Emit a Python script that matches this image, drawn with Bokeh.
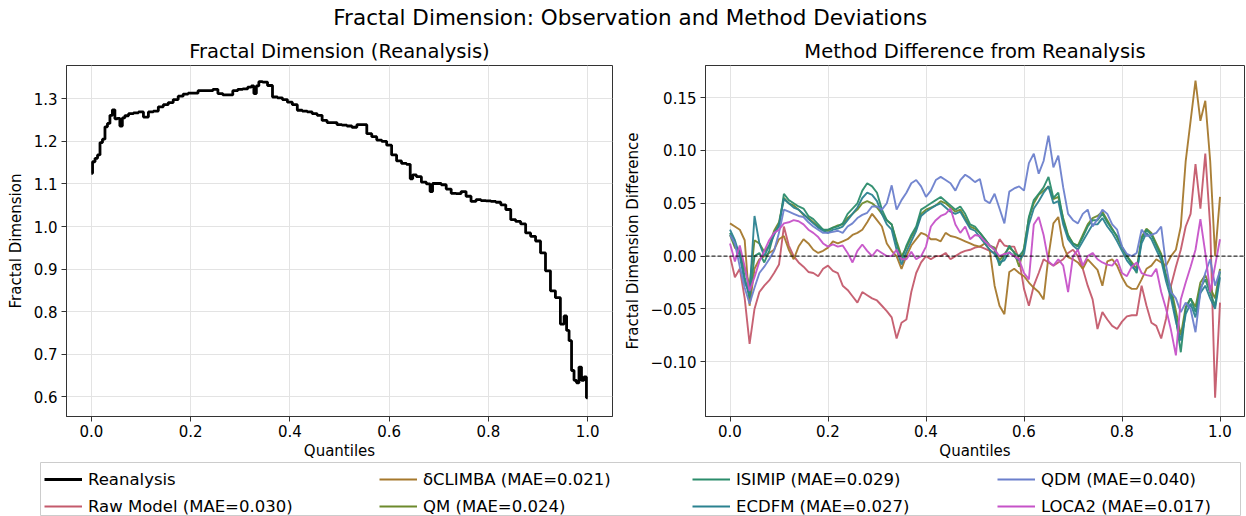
import numpy as np
from bokeh.plotting import figure
from bokeh.models import Range1d, FixedTicker, Span, Legend, LegendItem, CustomJSTickFormatter
from bokeh.layouts import column, row
from bokeh.embed import file_html
from bokeh.resources import INLINE
from bokeh.core.properties import value

FONT = "DejaVu Sans"

SUPTITLE = "Fractal Dimension: Observation and Method Deviations"
LEFT_TITLE = "Fractal Dimension (Reanalysis)"
RIGHT_TITLE = "Method Difference from Reanalysis"
X_LABEL = "Quantiles"
LEFT_YLABEL = "Fractal Dimension"
RIGHT_YLABEL = "Fractal Dimension Difference"

# ---- Reanalysis fractal dimension (left panel) ----
obs_q = [0.000, 0.005, 0.010, 0.015, 0.020, 0.025, 0.030, 0.035, 0.040, 0.045,
         0.050, 0.055, 0.060, 0.065, 0.070, 0.080, 0.090, 0.100, 0.110, 0.120,
         0.130, 0.140, 0.150, 0.160, 0.170, 0.180, 0.190, 0.200, 0.210, 0.220,
         0.230, 0.240, 0.250, 0.260, 0.270, 0.280, 0.290, 0.300, 0.310, 0.320,
         0.325, 0.330, 0.335, 0.340, 0.350, 0.360, 0.370, 0.380, 0.390, 0.400,
         0.410, 0.420, 0.430, 0.440, 0.450, 0.460, 0.470, 0.480, 0.490, 0.500,
         0.510, 0.520, 0.530, 0.540, 0.550, 0.560, 0.570, 0.580, 0.590, 0.600,
         0.610, 0.620, 0.630, 0.640, 0.645, 0.650, 0.660, 0.670, 0.680, 0.685,
         0.690, 0.700, 0.710, 0.720, 0.730, 0.740, 0.750, 0.760, 0.770, 0.780,
         0.790, 0.800, 0.810, 0.820, 0.830, 0.840, 0.850, 0.860, 0.870, 0.880,
         0.890, 0.900, 0.910, 0.920, 0.930, 0.940, 0.950, 0.955, 0.960, 0.965,
         0.970, 0.975, 0.980, 0.985, 0.990, 0.995, 1.000]
obs_fd = [1.125, 1.152, 1.160, 1.168, 1.197, 1.205, 1.234, 1.242, 1.261, 1.274,
          1.253, 1.254, 1.236, 1.255, 1.260, 1.265, 1.267, 1.269, 1.257, 1.269,
          1.271, 1.281, 1.286, 1.291, 1.298, 1.306, 1.311, 1.313, 1.313, 1.319,
          1.319, 1.319, 1.322, 1.312, 1.309, 1.309, 1.319, 1.322, 1.323, 1.327,
          1.330, 1.312, 1.330, 1.340, 1.339, 1.331, 1.304, 1.302, 1.298, 1.292,
          1.286, 1.273, 1.271, 1.269, 1.265, 1.261, 1.249, 1.244, 1.244, 1.239,
          1.238, 1.236, 1.233, 1.239, 1.239, 1.218, 1.211, 1.203, 1.200, 1.191,
          1.168, 1.154, 1.148, 1.146, 1.112, 1.121, 1.117, 1.104, 1.100, 1.082,
          1.101, 1.101, 1.098, 1.088, 1.078, 1.077, 1.082, 1.071, 1.059, 1.063,
          1.061, 1.060, 1.059, 1.057, 1.051, 1.040, 1.016, 1.012, 1.006, 0.985,
          0.977, 0.966, 0.938, 0.896, 0.849, 0.833, 0.771, 0.790, 0.756, 0.732,
          0.662, 0.639, 0.633, 0.670, 0.639, 0.647, 0.598]

# ---- Method differences from reanalysis (right panel), quantiles 0.00..1.00 step 0.01 ----
quantiles = np.round(np.linspace(0.0, 1.0, 101), 2)

raw_model = [0.000, -0.020, -0.012, -0.040, -0.083, -0.050, -0.034, -0.028, -0.023, -0.016,
             -0.008, 0.028, 0.010, 0.000, -0.006, -0.010, -0.015, -0.016, -0.019, -0.012,
             -0.009, -0.014, -0.016, -0.028, -0.032, -0.038, -0.044, -0.034, -0.037, -0.040,
             -0.042, -0.047, -0.052, -0.058, -0.078, -0.063, -0.060, -0.034, -0.016, -0.006,
             0.000, -0.003, 0.000, 0.000, 0.003, -0.003, 0.000, 0.003, 0.005, 0.006,
             0.008, 0.009, 0.007, 0.005, 0.003, 0.016, 0.010, 0.009, 0.009, -0.003,
             -0.031, -0.047, -0.028, -0.016, -0.003, -0.006, -0.009, -0.006, -0.003, 0.003,
             0.006, 0.000, -0.012, -0.028, -0.041, -0.069, -0.053, -0.060, -0.066, -0.069,
             -0.062, -0.057, -0.056, -0.056, -0.028, -0.047, -0.063, -0.066, -0.078, -0.059,
             -0.028, -0.010, 0.006, 0.028, 0.040, 0.087, 0.045, 0.097, 0.028, -0.134, -0.044]

dclimba = [0.031, 0.028, 0.025, 0.015, -0.047, -0.012, -0.003, 0.000, 0.003, 0.006,
           0.016, 0.019, 0.006, -0.003, 0.009, 0.016, 0.012, 0.006, 0.003, 0.005,
           0.008, 0.014, 0.012, 0.014, 0.016, 0.020, 0.022, 0.025, 0.032, 0.040,
           0.034, 0.028, 0.012, 0.005, 0.000, -0.012, 0.000, 0.010, 0.016, 0.022,
           0.020, 0.016, 0.016, 0.014, 0.022, 0.019, 0.018, 0.016, 0.014, 0.012,
           0.010, 0.009, 0.012, 0.006, -0.028, -0.047, -0.055, -0.015, -0.012, -0.016,
           -0.019, -0.025, -0.030, -0.034, -0.041, 0.000, 0.031, 0.037, 0.010, -0.001,
           -0.003, -0.006, -0.012, -0.003, -0.008, -0.013, -0.028, -0.005, -0.003, -0.009,
           -0.020, -0.028, -0.031, -0.031, -0.022, -0.012, -0.009, -0.003, -0.006, -0.009,
           0.000, 0.006, 0.028, 0.090, 0.128, 0.166, 0.128, 0.147, 0.090, 0.000, 0.056]

qm = [0.020, 0.008, 0.004, -0.012, -0.028, 0.015, 0.012, 0.004, 0.010, 0.024,
      0.032, 0.055, 0.050, 0.048, 0.044, 0.039, 0.036, 0.032, 0.028, 0.025,
      0.024, 0.027, 0.029, 0.030, 0.036, 0.040, 0.044, 0.050, 0.052, 0.050,
      0.046, 0.040, 0.034, 0.030, 0.014, 0.000, 0.008, 0.018, 0.026, 0.040,
      0.044, 0.046, 0.048, 0.052, 0.050, 0.046, 0.042, 0.044, 0.036, 0.028,
      0.026, 0.022, 0.016, 0.010, 0.008, -0.004, 0.002, 0.008, 0.004, -0.010,
      0.008, 0.036, 0.050, 0.058, 0.062, 0.066, 0.054, 0.056, 0.036, 0.020,
      0.012, 0.010, 0.020, 0.030, 0.036, 0.038, 0.042, 0.034, 0.026, 0.018,
      0.008, 0.000, -0.006, -0.012, 0.018, 0.026, 0.022, 0.012, 0.002, -0.018,
      -0.030, -0.052, -0.075, -0.048, -0.040, -0.048, -0.025, -0.018, -0.030, -0.040, -0.012]

isimip = [0.022, 0.010, 0.005, -0.020, -0.040, 0.000, 0.003, -0.006, 0.005, 0.022,
          0.028, 0.059, 0.053, 0.050, 0.047, 0.045, 0.038, 0.035, 0.030, 0.025,
          0.025, 0.027, 0.028, 0.031, 0.040, 0.045, 0.050, 0.062, 0.069, 0.066,
          0.060, 0.044, 0.034, 0.030, 0.012, -0.004, 0.010, 0.020, 0.028, 0.044,
          0.047, 0.050, 0.053, 0.056, 0.052, 0.048, 0.044, 0.047, 0.040, 0.030,
          0.028, 0.022, 0.016, 0.010, 0.006, -0.009, 0.000, 0.010, 0.003, 0.000,
          0.006, 0.037, 0.053, 0.059, 0.065, 0.075, 0.055, 0.060, 0.034, 0.019,
          0.012, 0.009, 0.018, 0.028, 0.034, 0.034, 0.040, 0.032, 0.025, 0.019,
          0.009, 0.000, -0.008, -0.016, 0.016, 0.025, 0.020, 0.010, 0.000, -0.020,
          -0.034, -0.059, -0.091, -0.050, -0.040, -0.053, -0.030, -0.022, -0.035, -0.047, -0.015]

ecdfm = [0.025, 0.015, 0.000, -0.025, -0.035, 0.038, 0.012, 0.000, 0.010, 0.020,
         0.030, 0.054, 0.050, 0.046, 0.044, 0.040, 0.035, 0.031, 0.027, 0.024,
         0.022, 0.025, 0.026, 0.028, 0.034, 0.040, 0.046, 0.055, 0.060, 0.058,
         0.052, 0.040, 0.030, 0.025, 0.006, -0.008, 0.004, 0.014, 0.024, 0.038,
         0.042, 0.045, 0.048, 0.050, 0.046, 0.042, 0.040, 0.042, 0.034, 0.026,
         0.024, 0.018, 0.012, 0.006, 0.002, -0.006, -0.004, 0.004, 0.000, -0.004,
         0.002, 0.030, 0.045, 0.052, 0.060, 0.066, 0.050, 0.052, 0.030, 0.016,
         0.010, 0.006, 0.014, 0.022, 0.030, 0.030, 0.036, 0.028, 0.022, 0.014,
         0.005, -0.004, -0.010, -0.014, 0.012, 0.022, 0.016, 0.006, -0.004, -0.024,
         -0.040, -0.062, -0.080, -0.055, -0.045, -0.058, -0.035, -0.028, -0.040, -0.050, -0.020]

qdm = [0.020, 0.012, -0.010, -0.030, -0.045, -0.030, -0.016, -0.010, -0.003, 0.005,
       0.022, 0.044, 0.042, 0.040, 0.038, 0.037, 0.032, 0.028, 0.025, 0.022,
       0.022, 0.023, 0.024, 0.022, 0.028, 0.031, 0.036, 0.039, 0.041, 0.047,
       0.047, 0.044, 0.050, 0.067, 0.044, 0.053, 0.060, 0.069, 0.072, 0.066,
       0.056, 0.062, 0.072, 0.075, 0.072, 0.069, 0.062, 0.072, 0.077, 0.074,
       0.070, 0.073, 0.053, 0.050, 0.059, 0.045, 0.031, 0.061, 0.064, 0.066,
       0.062, 0.088, 0.097, 0.078, 0.090, 0.114, 0.084, 0.095, 0.065, 0.040,
       0.034, 0.031, 0.040, 0.044, 0.028, 0.035, 0.044, 0.040, 0.030, 0.025,
       0.009, 0.002, 0.000, 0.003, 0.025, 0.019, 0.020, 0.022, 0.028, -0.009,
       -0.034, -0.040, -0.053, -0.044, -0.050, -0.072, -0.034, -0.016, -0.003, -0.028, -0.014]

loca2 = [0.012, -0.005, 0.010, -0.010, -0.033, -0.020, -0.005, 0.005, 0.015, 0.022,
         0.025, 0.031, 0.032, 0.034, 0.033, 0.030, 0.025, 0.022, 0.018, 0.012,
         0.009, 0.011, 0.009, 0.010, 0.003, -0.006, 0.005, 0.011, 0.005, 0.000,
         0.006, 0.003, 0.000, 0.000, 0.006, -0.003, -0.003, 0.004, -0.003, 0.000,
         0.009, 0.028, 0.034, 0.038, 0.040, 0.045, 0.030, 0.022, 0.028, 0.016,
         0.020, 0.019, 0.014, 0.010, 0.006, 0.000, 0.002, 0.003, 0.000, -0.003,
         -0.016, -0.022, 0.030, 0.037, 0.020, -0.005, -0.009, -0.003, -0.009, -0.034,
         0.000, 0.006, -0.009, 0.000, 0.003, -0.003, -0.006, -0.008, -0.009, -0.003,
         -0.016, -0.019, -0.010, -0.006, -0.016, -0.018, -0.019, -0.012, -0.034, -0.050,
         -0.070, -0.094, -0.041, -0.025, -0.010, 0.006, 0.035, 0.003, -0.034, -0.009, 0.016]

method_names = ["Raw Model", "\u03b4CLIMBA", "QM", "ISIMIP", "ECDFM", "QDM", "LOCA2"]
method_mae = [0.030, 0.021, 0.024, 0.029, 0.027, 0.040, 0.017]
method_series = [raw_model, dclimba, qm, isimip, ecdfm, qdm, loca2]
method_colors = ["#c45a6c", "#a5782c", "#6d8a2c", "#2b8c6b", "#2b8290", "#6b7fcc", "#c652c8"]

x_ticks = [0.0, 0.2, 0.4, 0.6, 0.8, 1.0]
left_y_ticks = [0.6, 0.7, 0.8, 0.9, 1.0, 1.1, 1.2, 1.3]
right_y_ticks = [-0.10, -0.05, 0.00, 0.05, 0.10, 0.15]

for s in method_series:
    assert len(s) == 101


def fmt(decimals):
    return CustomJSTickFormatter(code=(
        "var v = Math.abs(tick) < 1e-9 ? 0 : tick;"
        "return v.toFixed(%d).replace('-', '\u2212');" % decimals))


def style(p, title, ylabel, yticks, ydec):
    p.title.text = title
    p.title.text_font = FONT
    p.title.text_font_size = "19.5px"
    p.title.text_font_style = "normal"
    p.title.align = "center"
    p.title.text_color = "black"
    p.title.standoff = 6
    p.outline_line_color = "#333333"
    p.outline_line_width = 1
    p.grid.grid_line_color = "#e3e3e3"
    p.grid.grid_line_width = 1
    p.xaxis.ticker = FixedTicker(ticks=x_ticks)
    p.yaxis.ticker = FixedTicker(ticks=yticks)
    p.xaxis.formatter = fmt(1)
    p.yaxis.formatter = fmt(ydec)
    p.xaxis.axis_label = X_LABEL
    p.yaxis.axis_label = ylabel
    for ax in (p.xaxis[0], p.yaxis[0]):
        ax.axis_line_color = "#333333"
        ax.major_tick_line_color = "#333333"
        ax.major_tick_out = 5
        ax.major_tick_in = 0
        ax.minor_tick_out = 0
        ax.minor_tick_in = 0
        ax.major_label_text_font = FONT
        ax.major_label_text_font_size = "15px"
        ax.major_label_text_color = "black"
        ax.axis_label_text_font = FONT
        ax.axis_label_text_font_size = "15px"
        ax.axis_label_text_font_style = "normal"
        ax.axis_label_text_color = "black"
    p.xaxis.major_label_standoff = 3
    p.xaxis.axis_label_standoff = 2
    p.yaxis.major_label_standoff = 4
    p.yaxis.axis_label_standoff = 6


# header with suptitle
header = figure(width=1246, height=30, x_range=Range1d(0, 1), y_range=Range1d(0, 1),
                x_axis_type=None, y_axis_type=None, min_border=0,
                toolbar_location=None, output_backend="svg", outline_line_color=None)
header.grid.visible = False
header.text(x=[0.4915], y=[0.45], text=[SUPTITLE], text_align="center", text_baseline="middle",
            text_font=value(FONT), text_font_size="21.5px", text_color="black")

# left panel
p1 = figure(width=620, height=432, x_range=Range1d(-0.05, 1.05), y_range=Range1d(0.554, 1.378),
            min_border_left=66, min_border_right=8, min_border_top=35, min_border_bottom=44,
            toolbar_location=None, output_backend="svg")
style(p1, LEFT_TITLE, LEFT_YLABEL, left_y_ticks, 1)
p1.step(x=obs_q, y=obs_fd, mode="center", line_color="black", line_width=2.8)

# right panel
p2 = figure(width=626, height=432, x_range=Range1d(-0.05, 1.05), y_range=Range1d(-0.1518, 0.1804),
            min_border_left=78, min_border_right=2, min_border_top=35, min_border_bottom=44,
            toolbar_location=None, output_backend="svg")
style(p2, RIGHT_TITLE, RIGHT_YLABEL, right_y_ticks, 2)
for vals, col in zip(method_series, method_colors):
    p2.line(x=quantiles, y=vals, line_color=col, line_width=1.9, line_alpha=0.95)
p2.add_layout(Span(location=0, dimension="width", line_color="black", line_dash="4 2", line_width=1))

# legend strip
lf = figure(width=1246, height=54, x_range=Range1d(0, 1), y_range=Range1d(0, 1),
            x_axis_type=None, y_axis_type=None,
            min_border_left=40, min_border_right=6, min_border_top=0, min_border_bottom=0,
            toolbar_location=None, output_backend="svg", outline_line_color="#cccccc")
lf.grid.visible = False

labels = ["Reanalysis"] + ["%s (MAE=%.3f)" % (n, m) for n, m in zip(method_names, method_mae)]
colors = ["black"] + method_colors
widths = [2.8] + [2.0] * 7
renderers = [lf.line(x=[5, 6], y=[5, 6], line_color=c, line_width=w) for c, w in zip(colors, widths)]
col_x = [4, 339, 652, 957]
for ci in range(4):
    items = [LegendItem(label=labels[2 * ci + k], renderers=[renderers[2 * ci + k]]) for k in range(2)]
    lg = Legend(items=items, location=(col_x[ci], 0), orientation="vertical",
                glyph_width=38, glyph_height=20, label_height=20, label_standoff=6,
                spacing=7, padding=0, margin=0, border_line_color=None,
                background_fill_alpha=0,
                label_text_font=FONT, label_text_font_size="16.5px", label_text_color="black")
    lf.add_layout(lg, "center")

layout = column(header, row(p1, p2), lf)
open("out.html", "w").write(file_html(layout, INLINE))
